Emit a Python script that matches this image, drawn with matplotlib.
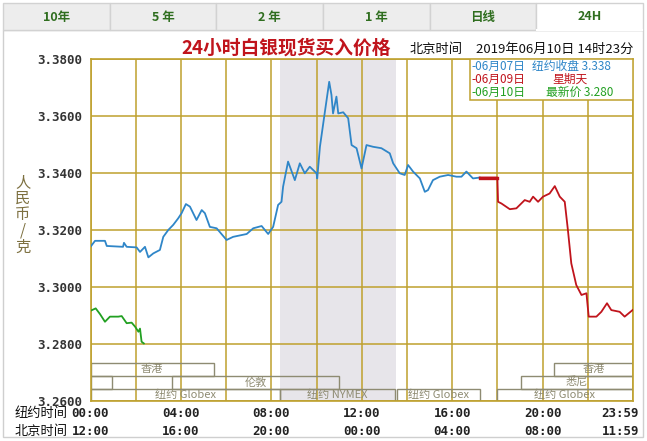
import numpy as np
import matplotlib
matplotlib.use('Agg')
import matplotlib.pyplot as plt
from matplotlib.patches import Rectangle

plt.rcParams['font.family'] = ['Noto Sans CJK SC', 'DejaVu Sans']

# ---- data ----
tabs = ['10年', '5 年', '2 年', '1 年', '日线', '24H']
price_ticks = [3.26, 3.28, 3.30, 3.32, 3.34, 3.36, 3.38]
time_hours = [0, 4, 8, 12, 16, 20, 24]
ny_times = ['00:00', '04:00', '08:00', '12:00', '16:00', '20:00', '23:59']
bj_times = ['12:00', '16:00', '20:00', '00:00', '04:00', '08:00', '11:59']

# 06-07 New York session (blue)
blue_h = [0.00, 0.20, 0.64, 0.72, 1.44, 1.48, 1.60, 2.04, 2.19, 2.41, 2.56, 2.78,
          3.07, 3.22, 3.44, 3.66, 3.88, 4.03, 4.22, 4.40, 4.69, 4.92, 5.06, 5.28,
          5.58, 6.02, 6.31, 6.91, 7.20, 7.57, 7.86, 8.08, 8.30, 8.45, 8.52, 8.74,
          9.04, 9.26, 9.48, 9.70, 10.00, 10.03, 10.15, 10.37, 10.56, 10.66, 10.73,
          10.88, 10.96, 11.18, 11.40, 11.55, 11.77, 11.99, 12.21, 12.50, 12.87,
          13.24, 13.39, 13.68, 13.90, 14.05, 14.27, 14.57, 14.79, 14.93, 15.15,
          15.45, 15.82, 16.19, 16.41, 16.63, 16.92, 17.22]
blue_p = [3.3141, 3.3162, 3.3162, 3.3144, 3.3141, 3.3155, 3.3141, 3.3139, 3.3123,
          3.3141, 3.3104, 3.3118, 3.3130, 3.3176, 3.3200, 3.3218, 3.3241, 3.3259,
          3.3291, 3.3282, 3.3235, 3.3270, 3.3259, 3.3211, 3.3206, 3.3165, 3.3176,
          3.3186, 3.3206, 3.3214, 3.3186, 3.3211, 3.3288, 3.3299, 3.3352, 3.3440,
          3.3375, 3.3434, 3.3399, 3.3422, 3.3399, 3.3381, 3.3492, 3.3615, 3.3720,
          3.3674, 3.3609, 3.3668, 3.3609, 3.3613, 3.3592, 3.3498, 3.3487, 3.3416,
          3.3498, 3.3492, 3.3487, 3.3469, 3.3434, 3.3399, 3.3393, 3.3428, 3.3405,
          3.3381, 3.3334, 3.3340, 3.3375, 3.3387, 3.3393, 3.3387, 3.3387, 3.3405,
          3.3381, 3.3384]

# 06-09 / Asian session (red)
red_h = [17.22, 18.00, 18.03, 18.18, 18.55, 18.84, 19.21, 19.43, 19.58, 19.80,
         20.02, 20.31, 20.54, 20.76, 20.98, 21.12, 21.27, 21.49, 21.72, 21.94,
         22.04, 22.38, 22.60, 22.85, 23.04, 23.41, 23.63, 23.98]
red_p = [3.3384, 3.3384, 3.3299, 3.3293, 3.3273, 3.3276, 3.3305, 3.3299, 3.3317,
         3.3299, 3.3317, 3.3328, 3.3354, 3.3317, 3.3299, 3.3200, 3.3083, 3.3007,
         3.2972, 3.2978, 3.2896, 3.2896, 3.2913, 3.2943, 3.2919, 3.2913, 3.2896,
         3.2919]

# 06-10 latest (green)
green_h = [0.01, 0.23, 0.42, 0.64, 0.86, 1.23, 1.38, 1.60, 1.82, 1.97, 2.12,
           2.19, 2.26, 2.36]
green_p = [3.2917, 3.2925, 3.2905, 3.2878, 3.2896, 3.2896, 3.2898, 3.2873,
           3.2875, 3.2861, 3.2843, 3.2854, 3.2808, 3.2802]

# NYMEX trading window (shaded)
nymex_start, nymex_end = 8.38, 13.50

# market sessions: label, start hour, end hour, row
sessions = [('香港', 0.0, 5.46, 0), ('香港', 20.49, 24.0, 0),
            ('', 0.0, 0.95, 1), ('伦敦', 3.60, 11.0, 1), ('悉尼', 19.03, 24.0, 1),
            ('纽约 Globex', 0.0, 8.38, 2), ('纽约 NYMEX', 8.38, 13.46, 2),
            ('纽约 Globex', 13.55, 17.22, 2), ('纽约 Globex', 17.97, 24.0, 2)]

legend_rows = [('-06月07日', '纽约收盘 3.338', '#2f86c8'),
               ('-06月09日', '星期天', '#c0141c'),
               ('-06月10日', '最新价 3.280', '#22a022')]

gold = '#bfa12e'
mono = 'DejaVu Sans Mono'

fig = plt.figure(figsize=(6.47, 4.41), dpi=100)

# background canvas in pixel units
bg = fig.add_axes([0, 0, 1, 1])
bg.set_xlim(0, 647)
bg.set_ylim(441, 0)
bg.axis('off')
bg.add_patch(Rectangle((3, 30), 640, 407, fill=False, ec='#cfcfcf', lw=1))
edges = np.linspace(3, 643, len(tabs) + 1)
for i, name in enumerate(tabs):
    sel = i == len(tabs) - 1
    bg.add_patch(Rectangle((edges[i], 3), edges[i + 1] - edges[i], 27,
                           fc='white' if sel else '#ededed', ec='#d2d2d2', lw=1))
    bg.text((edges[i] + edges[i + 1]) / 2, 17, name, ha='center', va='center',
            fontsize=9, fontweight='bold', color='#2f6e1f')
bg.plot([edges[-2] + 1, edges[-1] - 1], [30, 30], color='white', lw=1.5)

bg.text(286, 48, '24小时白银现货买入价格', ha='center', va='center',
        fontsize=13.5, fontweight='bold', color='#c0141c')
bg.text(410, 49, '北京时间', ha='left', va='center', fontsize=9.5, color='#111111')
bg.text(476, 49, '2019年06月10日 14时23分', ha='left', va='center',
        fontsize=9.5, color='#111111')
bg.text(23, 215, '人\n民\n币\n/\n克', ha='center', va='center', fontsize=11,
        linespacing=0.95, color='#7d7040')
bg.text(15, 414, '纽约时间', ha='left', va='center', fontsize=9.5, color='#111111')
bg.text(15, 431, '北京时间', ha='left', va='center', fontsize=9.5, color='#111111')

# main chart
ax = fig.add_axes([90.5 / 647, 1 - 401 / 441, 542.5 / 647, 342 / 441])
ax.set_facecolor('white')
ax.set_xlim(0, 24)
ax.set_ylim(3.26, 3.38)
ax.axvspan(nymex_start, nymex_end, color='#e7e5ea', lw=0, zorder=0)
ax.set_xticks(np.arange(0, 25, 2))
ax.set_xticklabels([])
ax.set_yticks(price_ticks)
ax.set_yticklabels(['%.4f' % p for p in price_ticks], fontfamily=mono,
                   fontweight='bold', fontsize=9, color='#333333')
ax.tick_params(length=0, pad=6)
ax.grid(True, color=gold, lw=1.1, zorder=1)
ax.set_axisbelow(True)
for s in ax.spines.values():
    s.set_color(gold)
    s.set_linewidth(1.2)

# session boxes in the bottom band
row_top = [3.2733, 3.2689, 3.2642]
row_bot = [3.2689, 3.2642, 3.2600]
for label, h0, h1, row in sessions:
    ax.add_patch(Rectangle((h0, row_bot[row]), h1 - h0, row_top[row] - row_bot[row],
                           fill=False, ec='#8e8b72', lw=1, zorder=2))
    if label:
        ax.text((h0 + h1) / 2, (row_top[row] + row_bot[row]) / 2, label,
                ha='center', va='center', fontsize=8, color='#8e8b72', zorder=3)

ax.plot(blue_h, blue_p, color='#2f86c8', lw=1.3, zorder=4)
ax.plot(red_h, red_p, color='#c0141c', lw=1.3, zorder=4)
ax.plot(red_h[:2], red_p[:2], color='#c0141c', lw=2.4, zorder=4)
ax.plot(green_h, green_p, color='#22a022', lw=1.3, zorder=4)

# legend box
ax.add_patch(Rectangle((16.78, 3.3656), 24 - 16.78, 3.38 - 3.3656, fc='white',
                       ec=gold, lw=1.1, zorder=5))
for i, (day, info, col) in enumerate(legend_rows):
    y = 3.3775 - i * 0.00455
    ax.text(16.85, y, day, ha='left', va='center', fontsize=8.5, color=col, zorder=6)
    ax.text(19.55 if i == 0 else (20.45 if i == 1 else 20.15), y, info,
            ha='left', va='center', fontsize=8.5, color=col, zorder=6)

# time labels under the axis
tr = ax.get_xaxis_transform()
for h, ny, bj in zip(time_hours, ny_times, bj_times):
    ha = 'right' if h == 24 else 'center'
    xx = 24.27 if h == 24 else h
    ax.text(xx, -0.038, ny, transform=tr, ha=ha, va='center', fontfamily=mono,
            fontweight='bold', fontsize=9, color='#222222', clip_on=False)
    ax.text(xx, -0.088, bj, transform=tr, ha=ha, va='center', fontfamily=mono,
            fontweight='bold', fontsize=9, color='#222222', clip_on=False)

fig.savefig('out.png', dpi=100)
